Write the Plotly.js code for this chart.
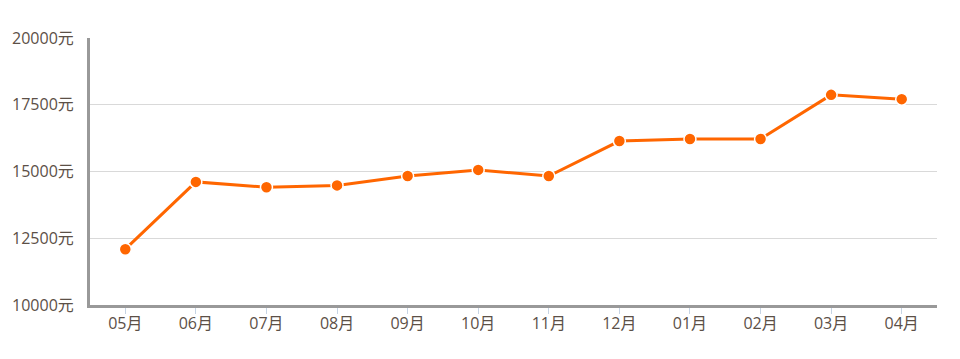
<!DOCTYPE html>
<html>
<head>
<meta charset="utf-8">
<script src="https://cdn.plot.ly/plotly-3.0.1.min.js"></script>
<style>html,body{margin:0;padding:0;background:#fff;}#chart{width:960px;height:359px;}</style>
</head>
<body>
<div id="chart"></div>
<script>
const months = ['05月','06月','07月','08月','09月','10月','11月','12月','01月','02月','03月','04月'];
const prices = [12090, 14610, 14410, 14480, 14830, 15060, 14830, 16140, 16220, 16220, 17870, 17710];
const yTicks = [10000, 12500, 15000, 17500, 20000];
const yTickText = yTicks.map(v => v + '元');

const trace = {
  type: 'scatter',
  mode: 'lines+markers',
  x: months,
  y: prices,
  line: {color: '#ff6600', width: 3},
  marker: {color: '#ff6600', size: 12, line: {color: '#ffffff', width: 1.5}},
  hoverinfo: 'x+y'
};

const font = {family: '"Open Sans", "Noto Sans CJK SC", sans-serif', size: 16, color: '#5c5047'};

const layout = {
  width: 960, height: 359,
  margin: {l: 90, r: 23, t: 38, b: 54},
  paper_bgcolor: '#ffffff', plot_bgcolor: '#ffffff',
  showlegend: false,
  font: font,
  xaxis: {
    type: 'category',
    range: [-0.5, months.length - 0.5],
    showline: true, linecolor: '#999999', linewidth: 3,
    showgrid: false, zeroline: false,
    ticks: 'outside', ticklen: 6, tickcolor: '#c6d4e4', tickwidth: 1,
    ticklabelstandoff: -4,
    tickfont: font
  },
  yaxis: {
    range: [10000, 20000],
    tickmode: 'array',
    tickvals: yTicks,
    ticktext: yTickText,
    showline: true, linecolor: '#999999', linewidth: 3,
    showgrid: true, gridcolor: '#d9d9d9', gridwidth: 1,
    zeroline: false,
    ticks: '', ticklabelstandoff: 10,
    tickfont: font
  }
};

Plotly.newPlot('chart', [trace], layout, {displayModeBar: false, staticPlot: true});
</script>
</body>
</html>
